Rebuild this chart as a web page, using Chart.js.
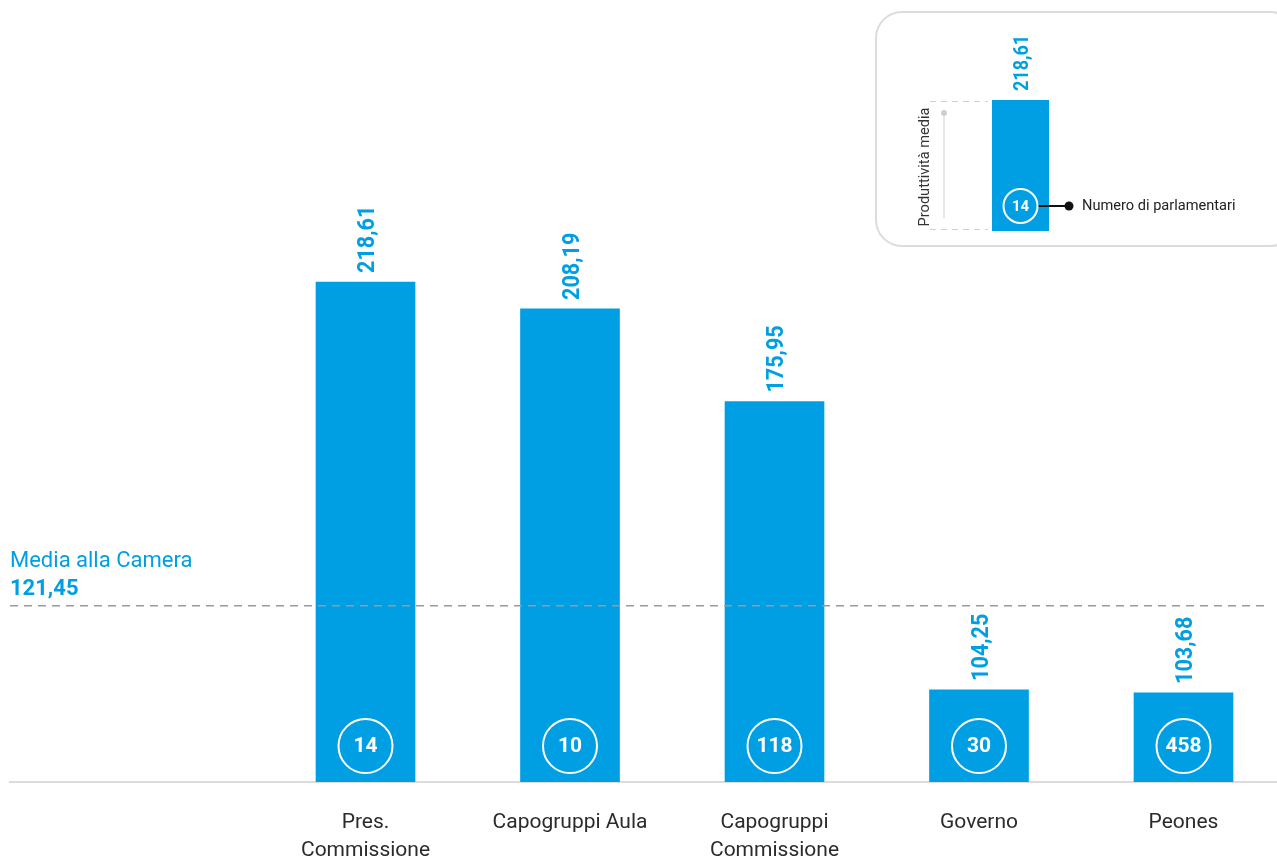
<!DOCTYPE html>
<html lang="it">
<head>
<meta charset="utf-8">
<title>Produttività media per ruolo</title>
<script src="https://cdn.jsdelivr.net/npm/chart.js@4"></script>
<style>
  html, body { margin: 0; padding: 0; background: #fff; }
  #wrap { width: 1277px; height: 861px; position: relative; }
</style>
</head>
<body>
<div id="wrap"><canvas id="grafico"></canvas></div>
<script>
// Dati
const categorie = [["Pres.", "Commissione"], ["Capogruppi Aula"], ["Capogruppi", "Commissione"], ["Governo"], ["Peones"]];
const produttivita = [218.61, 208.19, 175.95, 104.25, 103.68];
const parlamentari = [14, 10, 118, 30, 458];
const mediaCamera = 121.45;

const BLU = "#009fe3";
const FONT = "Roboto, 'DejaVu Sans', sans-serif";

function formatta(v){ return v.toFixed(2).replace(".", ","); }

// testo ruotato di -90°, leggermente condensato
function testoVerticale(ctx, testo, x, yFine, font, colore, capH){
    ctx.save();
    ctx.translate(x + capH/2, yFine);
    ctx.rotate(-Math.PI/2);
    ctx.scale(0.9, 1);
    ctx.font = font;
    ctx.fillStyle = colore;
    ctx.textAlign = "left";
    ctx.textBaseline = "alphabetic";
    ctx.fillText(testo, 0, 0);
    ctx.restore();
}

function cerchio(ctx, x, y, r, testo, font){
    ctx.save();
    ctx.beginPath();
    ctx.arc(x, y, r, 0, Math.PI*2);
    ctx.strokeStyle = "#fff";
    ctx.lineWidth = 2;
    ctx.stroke();
    ctx.font = font;
    ctx.fillStyle = "#fff";
    ctx.textAlign = "center";
    ctx.textBaseline = "middle";
    ctx.fillText(testo, x, y + 1);
    ctx.restore();
}

// Etichette, cerchi, linea media e box legenda
const decorazioni = {
    id: "decorazioni",
    afterDatasetsDraw(chart){
        const ctx = chart.ctx;
        const meta = chart.getDatasetMeta(0);
        const yScale = chart.scales.y;
        const area = chart.chartArea;

        // linea della media
        const yMedia = yScale.getPixelForValue(mediaCamera);
        ctx.save();
        ctx.strokeStyle = "#9a9a9a";
        ctx.lineWidth = 1.5;
        ctx.setLineDash([8, 6]);
        ctx.beginPath();
        ctx.moveTo(area.left, yMedia);
        ctx.lineTo(1264, yMedia);
        ctx.stroke();
        ctx.restore();

        // barre: valore sopra e numero di parlamentari
        meta.data.forEach((bar, i) => {
            testoVerticale(ctx, formatta(produttivita[i]), bar.x, bar.y - 9, "bold 24px " + FONT, BLU, 17);
            cerchio(ctx, bar.x, bar.base - 36, 27, String(parlamentari[i]), "bold 21px " + FONT);
        });

        ctx.save();
        ctx.fillStyle = BLU;
        ctx.textAlign = "left";
        ctx.textBaseline = "alphabetic";
        ctx.font = "22px " + FONT;
        ctx.fillText("Media alla Camera", area.left, yMedia - 39);
        ctx.font = "bold 22px " + FONT;
        ctx.fillText(formatta(mediaCamera), area.left, yMedia - 11);
        ctx.restore();

        // box legenda
        ctx.save();
        ctx.strokeStyle = "#dcdcdc";
        ctx.lineWidth = 2;
        ctx.beginPath();
        ctx.roundRect(876, 12, 420, 234, 26);
        ctx.stroke();

        ctx.fillStyle = BLU;
        ctx.fillRect(992, 100, 57, 131);

        ctx.strokeStyle = "#cfcfcf";
        ctx.lineWidth = 1;
        ctx.setLineDash([6, 5]);
        ctx.beginPath();
        ctx.moveTo(930, 101.5); ctx.lineTo(988, 101.5);
        ctx.moveTo(930, 229.5); ctx.lineTo(988, 229.5);
        ctx.stroke();
        ctx.setLineDash([]);
        ctx.beginPath();
        ctx.moveTo(944, 113); ctx.lineTo(944, 218);
        ctx.stroke();
        ctx.fillStyle = "#cfcfcf";
        ctx.beginPath();
        ctx.arc(944, 113, 3, 0, Math.PI*2);
        ctx.fill();

        ctx.strokeStyle = "#111";
        ctx.lineWidth = 2;
        ctx.beginPath();
        ctx.moveTo(1038, 206); ctx.lineTo(1069, 206);
        ctx.stroke();
        ctx.fillStyle = "#111";
        ctx.beginPath();
        ctx.arc(1069, 206, 4.5, 0, Math.PI*2);
        ctx.fill();

        ctx.font = "14.6px " + FONT;
        ctx.fillStyle = "#222";
        ctx.textAlign = "left";
        ctx.textBaseline = "middle";
        ctx.fillText("Numero di parlamentari", 1082, 206);

        ctx.translate(925, 167);
        ctx.rotate(-Math.PI/2);
        ctx.textAlign = "center";
        ctx.fillStyle = "#333";
        ctx.fillText("Produttività media", 0, 0);
        ctx.restore();

        testoVerticale(ctx, formatta(produttivita[0]), 1020.5, 91, "bold 20px " + FONT, BLU, 14);
        cerchio(ctx, 1020.5, 206, 17, String(parlamentari[0]), "bold 15px " + FONT);
    }
};

new Chart(document.getElementById("grafico"), {
    type: "bar",
    data: {
        datasets: [{
            data: produttivita.map((v, i) => ({x: i, y: v})),
            backgroundColor: BLU,
            borderWidth: 0,
            barThickness: 99
        }]
    },
    options: {
        responsive: true,
        maintainAspectRatio: false,
        animation: false,
        layout: { padding: { left: 10, top: 10, right: 0, bottom: 0 } },
        plugins: { legend: { display: false }, tooltip: { enabled: false } },
        scales: {
            x: {
                type: "linear",
                offset: false,
                min: -1.7384,
                max: 4.4572,
                grid: { display: false },
                border: { color: "#dcdcdc", width: 2 },
                afterBuildTicks: (scale) => { scale.ticks = categorie.map((_, i) => ({value: i})); },
                afterFit: (scale) => {
                    scale.height = 79;
                    scale.paddingLeft = 0;
                    scale.paddingRight = 0;
                },
                ticks: {
                    autoSkip: false,
                    maxRotation: 0,
                    padding: 19,
                    color: "#2b2b2b",
                    font: { family: FONT, size: 21, lineHeight: 1.33 },
                    callback: (v) => categorie[v]
                }
            },
            y: {
                type: "logarithmic",
                display: false,
                min: 88.2,
                max: 358.2
            }
        }
    },
    plugins: [decorazioni]
});
</script>
</body>
</html>
